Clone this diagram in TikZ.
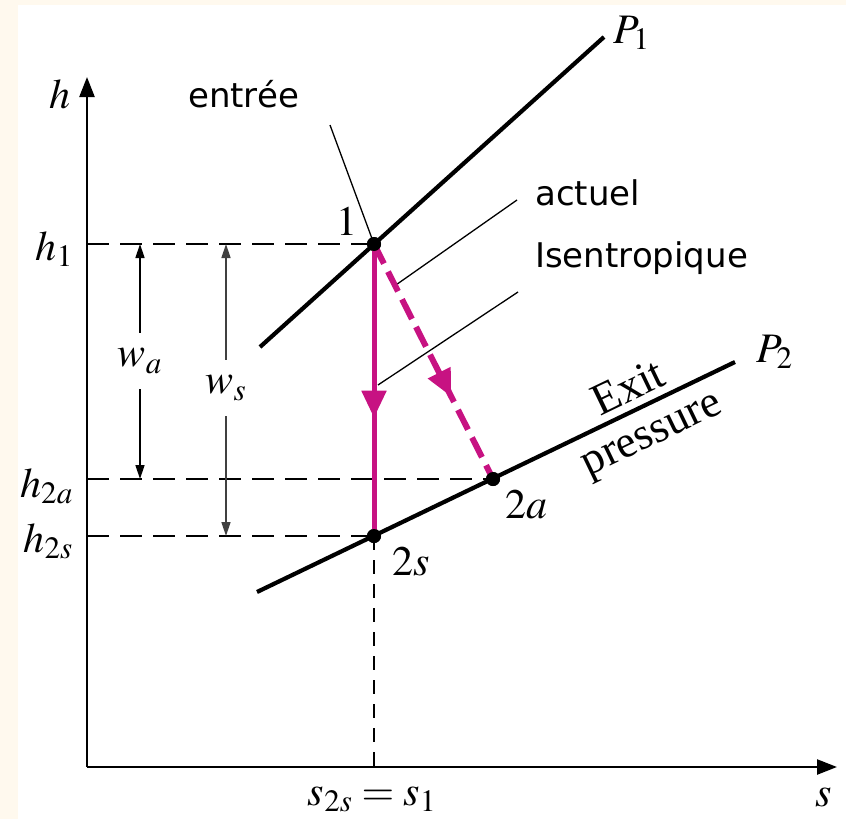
\documentclass[tikz,border=0pt]{standalone}
\usepackage{mathptmx}
\usepackage{fontspec}
\setmainfont{Liberation Serif}
\newfontfamily\handfont{DejaVu Sans}
\usetikzlibrary{arrows.meta,decorations.markings}
\definecolor{cream}{RGB}{255,249,238}
\definecolor{mag}{RGB}{199,18,130}
\begin{document}
\begin{tikzpicture}[x=1pt,y=-1pt,
  lbl/.style={font=\fontsize{42}{50}\selectfont, inner sep=0pt},
  biglbl/.style={font=\fontsize{45}{52}\selectfont, inner sep=0pt, rotate=25.7},
  hand/.style={font=\handfont\fontsize{34}{40}\selectfont, inner sep=0pt},
  axis/.style={line width=2.4pt, -{Triangle[length=20pt,width=15pt]}},
  guide/.style={line width=2pt, dash pattern=on 22pt off 11pt},
  vguide/.style={line width=1.6pt, dash pattern=on 14pt off 10pt},
  pline/.style={line width=4.2pt},
  dimarrow/.style={line width=1.5pt, -{Triangle[length=14pt,width=9pt]}},
  wlabel/.style={lbl, minimum height=56pt},
  leader/.style={line width=1.3pt},
  dot/.style={circle, fill=black, inner sep=0pt, minimum size=14pt},
  midarrow/.style={postaction={decorate}, decoration={markings,
      mark=at position #1 with {\arrow[solid]{Triangle[length=27pt,width=24pt]}}}},
]
\useasboundingbox (0,0) rectangle (846,819);
\fill[cream] (0,0) rectangle (846,819);
\fill[white] (18,5) rectangle (846,819);

% key coordinates
\coordinate (O) at (87,767);
\coordinate (hT) at (87,77);
\coordinate (sT) at (837,767);
\coordinate (p1a) at (260,347);
\coordinate (p1b) at (604,37);
\coordinate (p2a) at (257,592);
\coordinate (p2b) at (735,362);
\coordinate (y1) at (87,244);
\coordinate (y2a) at (87,479);
\coordinate (y2s) at (87,536);
\coordinate (xs) at (374,767);

% state points
\node[dot] (n1) at (374,244) {};
\node[dot] (n2s) at (374,536) {};
\node[dot] (n2a) at (493,479) {};

% axes
\draw[axis] (O) -- (hT);
\draw[axis] (O) -- (sT);

% guide lines
\draw[guide] (y1) -- (n1.center);
\draw[guide] (y2a) -- (n2a.center);
\draw[guide] (y2s) -- (n2s.center);
\draw[vguide] (n2s.center) -- (xs);

% pressure lines
\draw[pline] (p1a) -- (p1b);
\draw[pline] (p2a) -- (p2b);

% work dimension arrows
\node[wlabel] (wa) at (140,361) {$w_a$};
\node[wlabel] (ws) at (226,388) {$w_s$};
\draw[dimarrow] (wa) -- (wa |- y1);
\draw[dimarrow] (wa) -- (wa |- y2a);
\draw[dimarrow, black!75] (ws) -- (ws |- y1);
\draw[dimarrow, black!75] (ws) -- (ws |- y2s);

% leaders
\coordinate (le) at (330,125);
\coordinate (la) at (517,200);
\coordinate (la2) at (393,287);
\coordinate (li) at (518,292);
\coordinate (li2) at (378,385);
\draw[leader] (le) -- (n1.center);
\draw[leader] (la) -- (la2);
\draw[leader] (li) -- (li2);

% processes
\draw[mag, line width=5pt, midarrow=0.595] (n1.center) -- (n2s.center);
\draw[mag, line width=6pt, dash pattern=on 22pt off 9pt, midarrow=0.65] (n1.center) -- (n2a.center);

% redraw dots on top
\node[dot] at (n1) {};
\node[dot] at (n2s) {};
\node[dot] at (n2a) {};

% labels
\node[lbl, anchor=base east] (lh) at (71,108) {$h$};
\node[lbl, anchor=base east] (lh1) at (73,260) {$h_1$};
\node[lbl, anchor=base east] (lh2a) at (73,497) {$h_{2a}$};
\node[lbl, anchor=base east] (lh2s) at (73,552) {$h_{2s}$};
\node[lbl, anchor=base] (ls) at (824,806) {$s$};
\node[lbl, anchor=base] (lss) at (372,805) {$s_{2s} = s_1$};
\node[lbl, anchor=base west] (lp1) at (613,43) {$P_1$};
\node[lbl, anchor=base west] (lp2) at (756,362) {$P_2$};
\node[lbl, anchor=base] (l1) at (347,235) {$1$};
\node[lbl, anchor=base] (l2s) at (411,575) {$2s$};
\node[lbl, anchor=base] (l2a) at (526,518) {$2a$};
\node[biglbl] (lexit) at (628,387) {Exit};
\node[biglbl] (lpress) at (654,439) {pressure};

\node[hand, anchor=base west] (tin) at (188,107) {entrée};
\node[hand, anchor=base west] (tact) at (535,205) {actuel};
\node[hand, anchor=base west] (tisen) at (535,267) {Isentropique};
\end{tikzpicture}
\end{document}
